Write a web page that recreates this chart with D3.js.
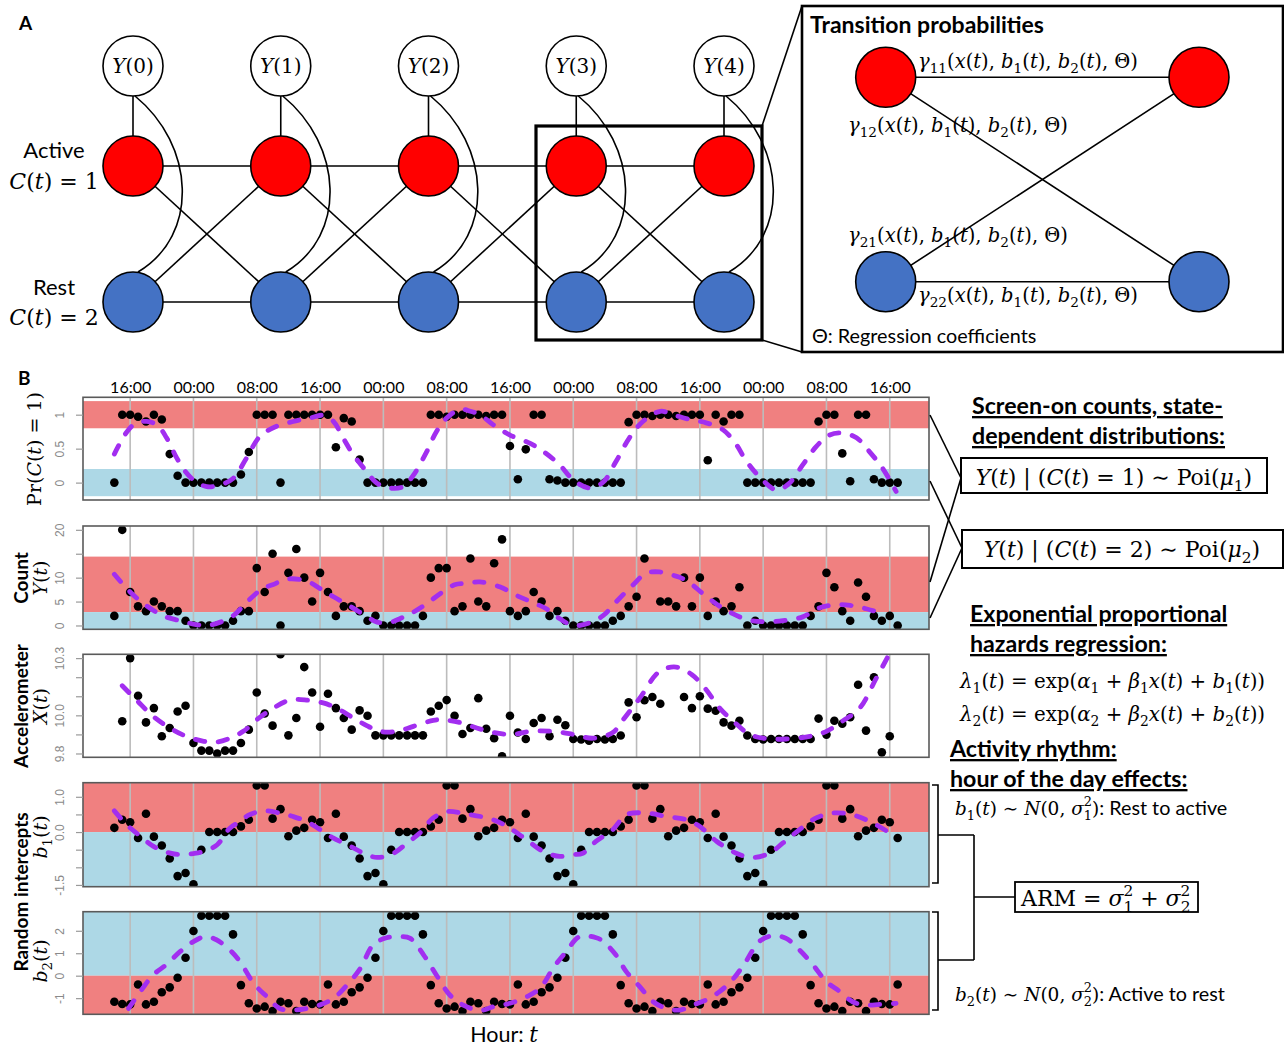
<!DOCTYPE html>
<html>
<head>
<meta charset="utf-8">
<title>Hidden Markov model of smartphone activity</title>
<script src="https://cdn.jsdelivr.net/npm/d3@7"></script>
<style>
  html, body { margin: 0; padding: 0; background: #fff; }
  svg { display: block; }
</style>
</head>
<body>
<svg id="fig" width="1284" height="1046"></svg>
<script>
// ---------------- fonts & colours ----------------
const SERIF = "'DejaVu Serif', 'Liberation Serif', serif";
const SANS = "Lato, 'Open Sans', 'Liberation Sans', sans-serif";
const TICKFONT = "'Liberation Sans', Arial, sans-serif";
const RED = '#FF0000', BLUE = '#4472C4';
const RED_BAND = '#F08080', BLUE_BAND = '#ADD8E6';
const PURPLE = '#A22EF0';

// ---------------- panel A: model graph ----------------
const timeSteps = [0, 1, 2, 3, 4];

// ---------------- panel B: hourly series ----------------
// hour index 0 corresponds to 14:00 on the first day
const hours = d3.range(100);
const firstClockHour = 14;
const clockTickHours = [2, 10, 18, 26, 34, 42, 50, 58, 66, 74, 82, 90, 98];
const clockTickLabels = ['16:00', '00:00', '08:00', '16:00', '00:00', '08:00', '16:00',
                         '00:00', '08:00', '16:00', '00:00', '08:00', '16:00'];

// posterior probability of the active state
const prActive = [0, 1, 1, 0.97, 0.9, 1, 0.93, 0.42, 0.1, 0,
  0, 0, 0, 0, 0, 0, 0.12, 0.45, 1, 1,
  1, 0, 1, 1, 1, 1, 1, 1, 0.52, 0.95,
  0.9, 0.34, 0, 0, 0, 0, 0, 0, 0, 0,
  1, 1, 0.97, 1, 1, 1, 1, 0.98, 1, 1,
  0.54, 0.05, 0.49, 1, 1, 0.05, 0.03, 0, 0, 0,
  0, 0, 0, 0, 0, 0.89, 1, 1, 0.98, 1,
  1, 0.98, 1, 1, 1, 0.33, 1, 0.9, 1, 1,
  0, 0, 0, 0, 0, 0, 0, 0, 0, 0.9,
  1, 1, 0.43, 0.02, 1, 1, 0.05, 0, 0, 0];
const prActiveFit = [[0, 0.42], [1.6, 0.75], [2.8, 0.88], [4.1, 0.9], [5.4, 0.85], [6.6, 0.66], [7.9, 0.36],
  [9, 0.16], [10, 0.04], [11.7, -0.06], [13.4, -0.03], [15, 0.06], [16.7, 0.36], [18.4, 0.68], [20.5, 0.83],
  [22.6, 0.9], [24.7, 0.95], [26.4, 0.99], [27.7, 0.9], [28.9, 0.66], [30.2, 0.41], [31.9, 0.16], [33.2, -0.01],
  [34.8, -0.08], [36.5, -0.06], [37.8, 0.11], [39.5, 0.46], [40.7, 0.75], [42, 0.95], [43.7, 1.08], [45, 1.05],
  [46.2, 1.0], [47.9, 0.85], [50, 0.7], [52.5, 0.58], [54.2, 0.46], [56.3, 0.26], [58, 0.04], [60.1, -0.08],
  [61.8, 0.01], [63.4, 0.31], [65.1, 0.66], [66.8, 0.9], [69, 1.05], [70.6, 1.0], [72.7, 0.93], [74.8, 0.88],
  [76.9, 0.78], [78.6, 0.56], [79.8, 0.33], [81.5, 0.09], [83.7, -0.11], [85.3, -0.01], [87, 0.26], [88.7, 0.53],
  [90.4, 0.7], [92, 0.73], [93.8, 0.66], [95.4, 0.46], [97.1, 0.21], [98.8, -0.13]];
const prTicks = [0, 0.5, 1];
const prTickLabels = ['0', '0.5', '1'];
const prBands = [[0.8, 1.2, 'active'], [-0.2, 0.2, 'rest']];

// screen-on counts
const screenCounts = [2, 20, 7, 4, 3, 5, 4, 3, 3, 1,
  0, 0, 0, 0, 0, 1, 3, 3, 12, 7,
  15, 0, 11, 16, 10, 5, 11, 7, 2, 4,
  4, 3, 1, 2, 0, 0, 0, 0, 0, 2,
  10, 12, 12, 3, 4, 14, 5, 4, 13, 18,
  3, 2, 3, 7, 5, 2, 3, 1, 0, 0,
  0, 0, 0, 1, 2, 4, 6, 14, null, 5,
  5, 4, 10, 4, 10, 2, 5, 3, 4, 8,
  0, 1, 0, 0, 0, 0, 0, 0, 2, 4,
  11, 8, 3, 1, 9, 6, 2, 1, 2, 0];
const countFit = [[0, 10.7], [2, 7], [4, 4.2], [6.2, 2], [8.3, 1], [10, 0.3], [11.7, 0], [13.4, 0.7], [15, 2],
  [16.7, 4.8], [18.7, 7.7], [20, 8.5], [21.8, 9.7], [24.3, 9.3], [26, 7.7], [27.7, 6], [29.8, 4], [32, 1.8],
  [33.2, 0.7], [34.9, 0.7], [36.2, 1.5], [37.8, 2.8], [39.5, 4.6], [41.3, 6.8], [43, 8.5], [44.5, 8.8],
  [46.2, 9.1], [48.7, 8.1], [50.8, 6.3], [52.9, 4.8], [54.6, 3.5], [56.3, 1.4], [58, 0], [60, 0.5], [61.8, 2.1],
  [63.4, 4.9], [65.5, 8.4], [67.2, 10.9], [68.9, 11.2], [70.6, 10.5], [72.2, 9.5], [74.5, 6.5], [76.5, 4],
  [78, 2.6], [80, 1.2], [82, 0.8], [84.5, 1.0], [87, 1.8], [89, 3.6], [91, 4.3], [93, 4.2], [95, 3.5], [97, 2.5]];
const countTicks = [0, 5, 10, 15, 20];
const countTickLabels = ['0', '5', '10', '', '20'];
const countBands = [[2.8, 14.4, 'active'], [-0.8, 2.8, 'rest']];

// accelerometer magnitude
const accelerometer = [null, 9.969, 10.30, 10.103, 9.963, 10.038, 9.89, 9.934, 10.02, 10.05,
  9.855, 9.815, 9.815, 9.80, 9.815, 9.815, 9.855, 9.925, 10.12, 10.01,
  9.946, 10.32, 9.895, 9.986, 10.253, 10.12, 9.94, 10.113, 10.038, 9.986,
  9.925, 10.026, 9.998, 9.895, 9.895, 9.895, 9.895, 9.895, 9.895, 9.895,
  10.02, 10.05, 10.08, 9.998, 9.902, 9.934, 10.09, 9.93, 9.88, 9.785,
  9.998, 9.91, 9.876, 9.96, 9.986, 9.89, 9.977, 9.948, 9.876, 9.873,
  9.867, 9.876, 9.873, 9.876, 9.894, 10.068, 9.99, 10.079, 10.096, 10.061,
  null, null, 10.096, 10.038, 10.1, 10.035, 10.024, 9.963, 9.946, 9.972,
  9.894, 9.876, 9.873, 9.876, 9.876, 9.876, 9.876, 9.876, 9.876, 9.983,
  9.899, 9.972, 9.956, 9.99, 10.16, 9.92, 10.2, 9.806, 9.89, null];
const accelFit = [[1, 10.155], [2.8, 10.08], [4.9, 9.995], [7, 9.934], [9.1, 9.89], [11.3, 9.864], [12.9, 9.86],
  [14.6, 9.88], [16.3, 9.916], [18, 9.977], [20.1, 10.038], [22.2, 10.08], [24.3, 10.08], [26.4, 10.065],
  [28.1, 10.038], [30.2, 9.986], [31.9, 9.946], [33.6, 9.916], [35.7, 9.916], [37.8, 9.942], [40.3, 9.974],
  [41.5, 9.977], [43.7, 9.962], [45.8, 9.934], [47.9, 9.91], [50.4, 9.9], [52.5, 9.916], [55.4, 9.916],
  [58, 9.9], [60.5, 9.88], [63, 9.91], [64.3, 9.977], [66.4, 10.09], [68.9, 10.23], [71, 10.253], [73, 10.213],
  [74.8, 10.134], [76.5, 10.038], [78.2, 9.97], [80.3, 9.9], [82.4, 9.878], [84.9, 9.876], [87.9, 9.89],
  [90, 9.916], [92, 9.969], [94.2, 10.038], [96.3, 10.195], [98, 10.326]];
const accelTicks = [9.8, 9.9, 10.0, 10.1, 10.2, 10.3];
const accelTickLabels = ['9.8', '', '10.0', '', '', '10.3'];
const accelBands = [];

// hour-of-day random intercepts (index = clock hour 0..23)
const b1ByClockHour = [-1.48, -0.5, 0, 0, 0, 0, 0.16, 0.35, 1.32, 1.32, 0.38, 0.65,
  -0.12, 0.04, 0.12, 0.35, 0.28, -0.17, 0.52, -0.13, -0.38, -0.75, -1.25, -1.16];
const b2ByClockHour = [1.99, 2.67, 2.67, 2.67, 2.67, 1.84, -0.42, -1.23, -1.46, -1.38, -1.57, -1.16,
  -1.23, -1.57, -1.16, -1.26, -1.28, -0.39, -1.28, -1.16, -0.74, -0.52, -0.09, 0.8];
const b1Fit = [[0, 0.6], [1.6, 0.2], [3.3, -0.12], [4.9, -0.4], [6.6, -0.57], [8.3, -0.64], [10, -0.61],
  [11.3, -0.55], [13, -0.36], [14.6, 0.11], [15.9, 0.3], [16.9, 0.47], [18.8, 0.6], [20.9, 0.54], [22.6, 0.44],
  [24.3, 0.3], [26, 0.07], [27.7, -0.17], [29.8, -0.4], [31.5, -0.6], [33.2, -0.72], [35.3, -0.6], [37, -0.31],
  [38.6, -0.03], [40.3, 0.4], [42, 0.58], [44.5, 0.51], [47.9, 0.35], [50, 0.11], [52.1, -0.22], [54.2, -0.55],
  [56.3, -0.69], [58, -0.64], [59.2, -0.6], [60.9, -0.26], [63, 0.07], [64.7, 0.49], [67.2, 0.54], [69.8, 0.44],
  [72.3, 0.35], [74, 0.16], [76.1, -0.26], [78.6, -0.6], [80.7, -0.72], [82.8, -0.6], [84.5, -0.31], [86.6, 0.07],
  [88.7, 0.4], [90.8, 0.54], [93.3, 0.49], [95.9, 0.25], [98.4, -0.08]];
const b2Fit = [[1.8, -1.46], [3.3, -0.7], [4.9, 0.03], [6.6, 0.5], [8.3, 1.07], [10, 1.52], [11.5, 1.74],
  [12.9, 1.6], [14.6, 1.14], [15.9, 0.62], [17.6, -0.34], [19.3, -0.94], [20.9, -1.46], [22.6, -1.53],
  [24.3, -1.46], [26, -1.3], [27.7, -1.01], [29.4, -0.42], [31.1, 0.33], [32.7, 1.37], [34.4, 1.69], [36.1, 1.74],
  [37.4, 1.66], [39.1, 0.92], [40.7, 0.03], [42.4, -0.86], [44.1, -1.31], [46.2, -1.55], [47.9, -1.38],
  [50, -1.23], [52.1, -0.94], [53.8, -0.56], [55.5, 0.36], [57.1, 1.07], [58.8, 1.74], [60.9, 1.69],
  [61.8, 1.52], [63.4, 0.92], [64.7, 0.18], [66.4, -0.49], [68.1, -1.16], [69.8, -1.46], [71.5, -1.53],
  [73.1, -1.31], [74.8, -1.08], [76.5, -0.71], [78.2, -0.15], [79.8, 0.62], [81.5, 1.52], [83.2, 1.78],
  [84.9, 1.66], [86.6, 1.14], [88.3, 0.48], [90, -0.27], [91.7, -0.71], [93.3, -1.16], [95, -1.31],
  [96.7, -1.28], [98.8, -1.23]];
const b1Ticks = [-1.5, -1.0, -0.5, 0.0, 0.5, 1.0];
const b1TickLabels = ['-1.5', '', '', '0.0', '', '1.0'];
const b1Bands = [[0, 1.4, 'active'], [-1.55, 0, 'rest']];
const b2Ticks = [-1, 0, 1, 2];
const b2TickLabels = ['-1', '0', '1', '2'];
const b2Bands = [[0, 2.85, 'rest'], [-1.72, 0, 'active']];

// ---------------- helpers ----------------
const svg = d3.select('#fig');

// Tiny math typesetter: letters italic, digits/punctuation upright,
// _{..} subscript, ^{..} superscript, \r{..} upright word, \s{..} sans text.
function parseMath(str) {
  const runs = [];
  let i = 0;
  while (i < str.length) {
    const c = str[i];
    if ((c === '_' || c === '^') && str[i + 1] === '{') {
      const end = str.indexOf('}', i);
      runs.push({ text: str.slice(i + 2, end), pos: c === '_' ? 'sub' : 'sup', italic: false, family: null });
      i = end + 1;
    } else if (c === '\\' && (str[i + 1] === 'r' || str[i + 1] === 's') && str[i + 2] === '{') {
      const end = str.indexOf('}', i);
      runs.push({ text: str.slice(i + 3, end), pos: 'base', italic: false, family: str[i + 1] === 's' ? SANS : null, fixed: true });
      i = end + 1;
    } else {
      const it = /[A-Za-zα-ω]/.test(c);
      const last = runs[runs.length - 1];
      if (last && !last.fixed && last.pos === 'base' && last.italic === it) last.text += c;
      else runs.push({ text: c, pos: 'base', italic: it, family: null });
      i++;
    }
  }
  return runs;
}

function mathText(parent, str, o) {
  const fs = o.size;
  const t = parent.append('text')
    .attr('x', o.x || 0).attr('y', o.y || 0)
    .attr('font-family', SERIF).attr('font-size', fs)
    .attr('text-anchor', o.anchor || 'start').attr('fill', '#000');
  if (o.transform) t.attr('transform', o.transform);
  let shift = 0, prevSub = false, prevW = 0;
  parseMath(str).forEach(r => {
    const ts = t.append('tspan').text(r.text);
    let size = fs, target = 0;
    if (r.pos === 'sub') { size = fs * 0.7; target = fs * 0.26; }
    if (r.pos === 'sup') { size = fs * 0.7; target = -fs * 0.46; }
    if (size !== fs) ts.attr('font-size', size);
    if (target !== shift) { ts.attr('dy', target - shift); shift = target; }
    if (r.pos === 'sup' && prevSub) ts.attr('dx', -prevW);
    ts.attr('font-style', r.italic ? 'italic' : 'normal');
    if (r.family) ts.attr('font-family', r.family).attr('font-size', o.sansSize || fs);
    prevSub = r.pos === 'sub';
    prevW = r.text.length * size * 0.64;
  });
  return t;
}

function plainText(parent, str, o) {
  const t = parent.append('text').attr('x', o.x).attr('y', o.y)
    .attr('font-family', SANS).attr('font-size', o.size)
    .attr('font-weight', o.bold ? 700 : 400)
    .attr('text-anchor', o.anchor || 'start').text(str);
  if (o.underline) t.attr('text-decoration', 'underline');
  if (o.transform) t.attr('transform', o.transform);
  return t;
}

// ================= PANEL A =================
const gA = svg.append('g');
plainText(gA, 'A', { x: 19, y: 30, size: 19, bold: true });

const colX = d3.scaleLinear().domain([0, 4]).range([133, 724]);
const yObs = 66, yAct = 166, yRest = 302, R = 30;

// transitions between consecutive time steps
const edges = gA.append('g').attr('stroke', '#000').attr('stroke-width', 1.6).attr('fill', 'none');
timeSteps.slice(0, -1).forEach(k => {
  const a = colX(k), b = colX(k + 1);
  edges.append('line').attr('x1', a).attr('y1', yAct).attr('x2', b).attr('y2', yAct);
  edges.append('line').attr('x1', a).attr('y1', yRest).attr('x2', b).attr('y2', yRest);
  edges.append('line').attr('x1', a).attr('y1', yAct).attr('x2', b).attr('y2', yRest);
  edges.append('line').attr('x1', a).attr('y1', yRest).attr('x2', b).attr('y2', yAct);
});
timeSteps.forEach(k => {
  edges.append('line').attr('x1', colX(k)).attr('y1', yObs + R).attr('x2', colX(k)).attr('y2', yAct - R);
});
timeSteps.forEach(k => {
  const cx = colX(k);
  gA.append('circle').attr('cx', cx).attr('cy', yObs).attr('r', R).attr('fill', '#fff').attr('stroke', '#000').attr('stroke-width', 1.6);
  gA.append('circle').attr('cx', cx).attr('cy', yAct).attr('r', R).attr('fill', RED).attr('stroke', '#000').attr('stroke-width', 1.6);
  gA.append('circle').attr('cx', cx).attr('cy', yRest).attr('r', R).attr('fill', BLUE).attr('stroke', '#000').attr('stroke-width', 1.6);
  mathText(gA, `Y(${k})`, { x: cx, y: yObs + 7, size: 20, anchor: 'middle' });
  // emission link from observation to rest state
  gA.append('path')
    .attr('d', `M${cx + 2},${yObs + 30} C${cx + 62},${yObs + 79} ${cx + 67},${yObs + 169} ${cx + 5},${yRest - R}`)
    .attr('fill', 'none').attr('stroke', '#000').attr('stroke-width', 1.6);
});

plainText(gA, 'Active', { x: 54, y: 158, size: 22, anchor: 'middle' });
mathText(gA, 'C(t) = 1', { x: 54, y: 189, size: 22, anchor: 'middle' });
plainText(gA, 'Rest', { x: 54, y: 295, size: 22, anchor: 'middle' });
mathText(gA, 'C(t) = 2', { x: 54, y: 325, size: 22, anchor: 'middle' });

// highlighted pair of steps and zoom-out box
gA.append('rect').attr('x', 536).attr('y', 126).attr('width', 226).attr('height', 214)
  .attr('fill', 'none').attr('stroke', '#000').attr('stroke-width', 3.2);
gA.append('line').attr('x1', 762).attr('y1', 126).attr('x2', 802).attr('y2', 6).attr('stroke', '#000').attr('stroke-width', 1.6);
gA.append('line').attr('x1', 762).attr('y1', 340).attr('x2', 802).attr('y2', 352).attr('stroke', '#000').attr('stroke-width', 1.6);
gA.append('rect').attr('x', 802).attr('y', 6).attr('width', 481).attr('height', 346)
  .attr('fill', '#fff').attr('stroke', '#000').attr('stroke-width', 2.6);

plainText(gA, 'Transition probabilities', { x: 810, y: 33, size: 23, bold: true });
const tl = 885.7, tr = 1199, ta = 77.3, tb = 281.7;
const tEdges = gA.append('g').attr('stroke', '#000').attr('stroke-width', 1.6);
tEdges.append('line').attr('x1', tl).attr('y1', ta).attr('x2', tr).attr('y2', ta);
tEdges.append('line').attr('x1', tl).attr('y1', tb).attr('x2', tr).attr('y2', tb);
tEdges.append('line').attr('x1', tl).attr('y1', ta).attr('x2', tr).attr('y2', tb);
tEdges.append('line').attr('x1', tl).attr('y1', tb).attr('x2', tr).attr('y2', ta);
[[tl, ta, RED], [tr, ta, RED], [tl, tb, BLUE], [tr, tb, BLUE]].forEach(([cx, cy, c]) => {
  gA.append('circle').attr('cx', cx).attr('cy', cy).attr('r', 30).attr('fill', c).attr('stroke', '#000').attr('stroke-width', 1.6);
});
mathText(gA, 'γ_{11}(x(t), b_{1}(t), b_{2}(t), Θ)', { x: 918, y: 68, size: 19.5 });
mathText(gA, 'γ_{12}(x(t), b_{1}(t), b_{2}(t), Θ)', { x: 848, y: 132, size: 19.5 });
mathText(gA, 'γ_{21}(x(t), b_{1}(t), b_{2}(t), Θ)', { x: 848, y: 242, size: 19.5 });
mathText(gA, 'γ_{22}(x(t), b_{1}(t), b_{2}(t), Θ)', { x: 918, y: 302, size: 19.5 });
plainText(gA, 'Θ: Regression coefficients', { x: 812, y: 343, size: 19.8 });

// ================= PANEL B =================
const gB = svg.append('g');
plainText(gB, 'B', { x: 18, y: 385, size: 19, bold: true });

const X0 = 83, X1 = 929;
const x = d3.scaleLinear().domain([-3.96, 102.96]).range([X0, X1]);

const b1Series = hours.map(i => b1ByClockHour[(firstClockHour + i) % 24]);
const b2Series = hours.map(i => b2ByClockHour[(firstClockHour + i) % 24]);

const panels = [
  { top: 397.3, bottom: 500, domain: [-0.256, 1.256], values: prActive, fit: prActiveFit, ticks: prTicks, tickLabels: prTickLabels, bands: prBands },
  { top: 526, bottom: 629.3, domain: [-0.8, 20.8], values: screenCounts, fit: countFit, ticks: countTicks, tickLabels: countTickLabels, bands: countBands },
  { top: 654.3, bottom: 757.3, domain: [9.78, 10.32], values: accelerometer, fit: accelFit, ticks: accelTicks, tickLabels: accelTickLabels, bands: accelBands },
  { top: 782.7, bottom: 886.7, domain: [-1.55, 1.40], values: b1Series, fit: b1Fit, ticks: b1Ticks, tickLabels: b1TickLabels, bands: b1Bands },
  { top: 911.7, bottom: 1014.3, domain: [-1.72, 2.85], values: b2Series, fit: b2Fit, ticks: b2Ticks, tickLabels: b2TickLabels, bands: b2Bands }
];

const defs = svg.append('defs');
panels.forEach((p, k) => {
  const y = d3.scaleLinear().domain(p.domain).range([p.bottom, p.top]);
  const g = gB.append('g');
  defs.append('clipPath').attr('id', 'plotclip' + k)
    .append('rect').attr('x', X0).attr('y', p.top).attr('width', X1 - X0).attr('height', p.bottom - p.top);
  const body = g.append('g').attr('clip-path', `url(#plotclip${k})`);

  body.selectAll('rect.band').data(p.bands).join('rect').attr('class', 'band')
    .attr('x', X0).attr('width', X1 - X0)
    .attr('y', d => y(d[1])).attr('height', d => y(d[0]) - y(d[1]))
    .attr('fill', d => d[2] === 'active' ? RED_BAND : BLUE_BAND);

  body.selectAll('line.grid').data(clockTickHours).join('line').attr('class', 'grid')
    .attr('x1', d => x(d)).attr('x2', d => x(d)).attr('y1', p.top).attr('y2', p.bottom)
    .attr('stroke', '#bcbcbc').attr('stroke-width', 1.6);

  body.selectAll('circle').data(hours.filter(i => p.values[i] != null)).join('circle')
    .attr('cx', i => x(i)).attr('cy', i => y(p.values[i])).attr('r', 4.3).attr('fill', '#000');

  body.append('path').datum(p.fit)
    .attr('d', d3.line().x(d => x(d[0])).y(d => y(d[1])).curve(d3.curveCatmullRom.alpha(0.5)))
    .attr('fill', 'none').attr('stroke', PURPLE).attr('stroke-width', 4.8)
    .attr('stroke-linecap', 'round').attr('stroke-dasharray', '9.5,13.5');

  g.append('rect').attr('x', X0).attr('y', p.top).attr('width', X1 - X0).attr('height', p.bottom - p.top)
    .attr('fill', 'none').attr('stroke', '#5a5a5a').attr('stroke-width', 1.6);

  const ax = g.append('g').attr('transform', `translate(${X0},0)`)
    .call(d3.axisLeft(y).tickValues(p.ticks).tickFormat((d, i) => p.tickLabels[i]).tickSize(7));
  ax.select('.domain').remove();
  ax.attr('font-family', TICKFONT).attr('font-size', 12);
  ax.selectAll('.tick line').attr('stroke', '#9a9a9a').attr('stroke-width', 1.2);
  ax.selectAll('.tick text').attr('x', 0).attr('dy', null).attr('y', 0)
    .attr('transform', 'translate(-19,0) rotate(-90)').attr('text-anchor', 'middle').attr('fill', '#8a8a8a');

  if (k === 0) {
    const top = g.append('g').attr('transform', `translate(0,${p.top})`)
      .call(d3.axisTop(x).tickValues(clockTickHours).tickFormat((d, i) => clockTickLabels[i]).tickSize(0));
    top.select('.domain').remove();
    top.attr('font-family', SANS).attr('font-size', 16);
    top.selectAll('.tick text').attr('y', -4).attr('fill', '#000');
  }
});

// y-axis titles
mathText(gB, '\\r{Pr}(C(t) = 1)', { size: 19, anchor: 'middle', transform: 'translate(41,449) rotate(-90)' });
plainText(gB, 'Count', { x: 0, y: 0, size: 19, bold: true, anchor: 'middle', transform: 'translate(28,578) rotate(-90)' });
mathText(gB, 'Y(t)', { size: 19, anchor: 'middle', transform: 'translate(47,578) rotate(-90)' });
plainText(gB, 'Accelerometer', { x: 0, y: 0, size: 19, bold: true, anchor: 'middle', transform: 'translate(28,706) rotate(-90)' });
mathText(gB, 'X(t)', { size: 19, anchor: 'middle', transform: 'translate(47,706) rotate(-90)' });
plainText(gB, 'Random intercepts', { x: 0, y: 0, size: 19, bold: true, anchor: 'middle', transform: 'translate(28,892) rotate(-90)' });
mathText(gB, 'b_{1}(t)', { size: 19, anchor: 'middle', transform: 'translate(47,837) rotate(-90)' });
mathText(gB, 'b_{2}(t)', { size: 19, anchor: 'middle', transform: 'translate(47,961) rotate(-90)' });

mathText(gB, '\\s{Hour: }t', { x: 504, y: 1042, size: 21.5, sansSize: 21.5, anchor: 'middle' });

// ---------------- model annotations on the right ----------------
const gR = svg.append('g');
const conn = gR.append('g').attr('stroke', '#000').attr('stroke-width', 1.6).attr('fill', 'none');
conn.append('line').attr('x1', 930).attr('y1', 415).attr('x2', 961).attr('y2', 478);
conn.append('line').attr('x1', 930).attr('y1', 582).attr('x2', 961).attr('y2', 478);
conn.append('line').attr('x1', 930).attr('y1', 481).attr('x2', 962).attr('y2', 548);
conn.append('line').attr('x1', 930).attr('y1', 618).attr('x2', 962).attr('y2', 548);

const HEAD = 23.2;
plainText(gR, 'Screen-on counts, state-', { x: 972, y: 414, size: HEAD, bold: true, underline: true });
plainText(gR, 'dependent distributions:', { x: 972, y: 444, size: HEAD, bold: true, underline: true });
gR.append('rect').attr('x', 961).attr('y', 458).attr('width', 306).attr('height', 35)
  .attr('fill', '#fff').attr('stroke', '#000').attr('stroke-width', 2);
mathText(gR, 'Y(t) | (C(t) = 1) ∼ \\r{Poi}(μ_{1})', { x: 1114, y: 485, size: 22, anchor: 'middle' });
gR.append('rect').attr('x', 962).attr('y', 530).attr('width', 321).attr('height', 38)
  .attr('fill', '#fff').attr('stroke', '#000').attr('stroke-width', 2);
mathText(gR, 'Y(t) | (C(t) = 2) ∼ \\r{Poi}(μ_{2})', { x: 1122, y: 557, size: 22, anchor: 'middle' });

plainText(gR, 'Exponential proportional', { x: 970, y: 622, size: HEAD, bold: true, underline: true });
plainText(gR, 'hazards regression:', { x: 970, y: 652, size: HEAD, bold: true, underline: true });
mathText(gR, 'λ_{1}(t) = \\r{exp}(α_{1} + β_{1}x(t) + b_{1}(t))', { x: 960, y: 688, size: 19.8 });
mathText(gR, 'λ_{2}(t) = \\r{exp}(α_{2} + β_{2}x(t) + b_{2}(t))', { x: 960, y: 721, size: 19.8 });

plainText(gR, 'Activity rhythm:', { x: 950, y: 757, size: HEAD, bold: true, underline: true });
plainText(gR, 'hour of the day effects:', { x: 950, y: 787, size: HEAD, bold: true, underline: true });
mathText(gR, 'b_{1}(t) ∼ N(0, σ_{1}^{2})\\s{: Rest to active}', { x: 955, y: 815, size: 18.5, sansSize: 19.8 });
mathText(gR, 'b_{2}(t) ∼ N(0, σ_{2}^{2})\\s{: Active to rest}', { x: 955, y: 1001, size: 18.5, sansSize: 19.8 });

conn.append('path').attr('d', 'M932,785 H938 V883 H932 M938,835 H974');
conn.append('path').attr('d', 'M932,912 H938 V1010 H932 M938,960 H974');
conn.append('path').attr('d', 'M974,835 V960 M974,897 H1015');
gR.append('rect').attr('x', 1015).attr('y', 882).attr('width', 183).attr('height', 30)
  .attr('fill', '#fff').attr('stroke', '#000').attr('stroke-width', 1.8);
mathText(gR, '\\r{ARM} =  σ_{1}^{2} + σ_{2}^{2}', { x: 1021, y: 906, size: 22 });
</script>
</body>
</html>
